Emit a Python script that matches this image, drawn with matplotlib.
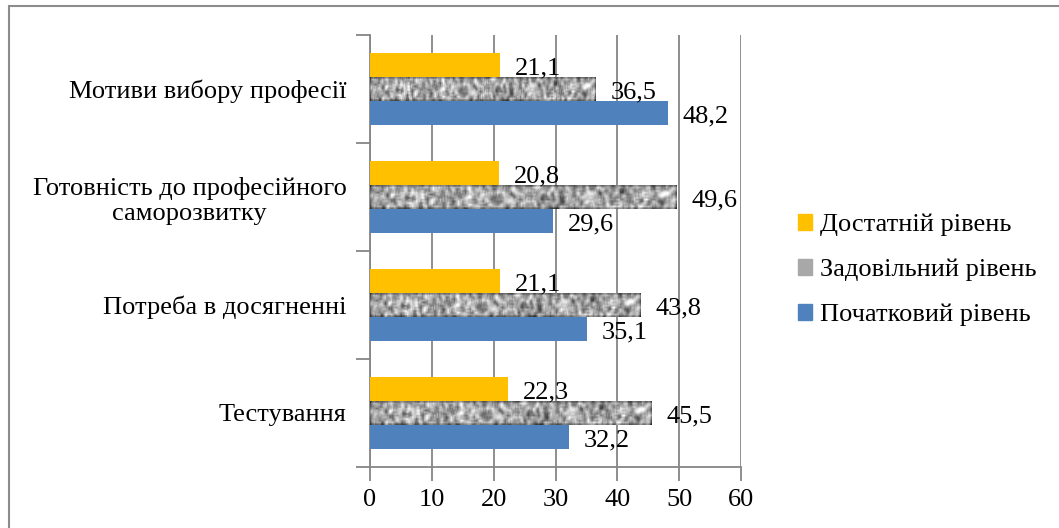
import numpy as np
import matplotlib.pyplot as plt
from matplotlib.patches import Rectangle

plt.rcParams['font.family'] = ['Liberation Serif', 'DejaVu Serif']

# ---- дані ----
categories = ['Тестування', 'Потреба в досягненні',
              'Готовність до професійного\nсаморозвитку', 'Мотиви вибору професії']
pochatkovyi = [32.2, 35.1, 29.6, 48.2]
zadovilnyi = [45.5, 43.8, 49.6, 36.5]
dostatnii = [22.3, 21.1, 20.8, 21.1]
series_names = ['Початковий рівень', 'Задовільний рівень', 'Достатній рівень']
xticks = [0, 10, 20, 30, 40, 50, 60]

FS = 19
W, H = 1059, 528
fig = plt.figure(figsize=(W / 100, H / 100), dpi=100)
ax = fig.add_axes([370 / W, 1 - 467 / H, 371 / W, 432 / H])

# рамка навколо діаграми
fig.patches.append(Rectangle((9 / W, -0.2), 1.2, 1.2 - 6 / H,
                             transform=fig.transFigure, fill=False,
                             ec='#8c8c8c', lw=1.5, zorder=0))

y = np.arange(len(categories))
h = 0.222
# текстура для сірих смуг (лише оформлення)
grey_tex = np.random.default_rng(3).random((14, 220))
k = np.ones(3) / 3
grey_tex = np.apply_along_axis(lambda r: np.convolve(r, k, mode='same'), 1, grey_tex)
grey_tex = np.apply_along_axis(lambda c: np.convolve(c, k, mode='same'), 0, grey_tex)

ax.barh(y - h, pochatkovyi, h, color='#4f81bd', zorder=3)
bars = ax.barh(y, zadovilnyi, h, color='#b0b0b0', zorder=3)
ax.barh(y + h, dostatnii, h, color='#ffc000', zorder=3)

for b in bars:
    x0, y0 = b.get_x(), b.get_y()
    im = ax.imshow(grey_tex, cmap='gray', vmin=0.0, vmax=0.75, aspect='auto',
                   extent=(x0, x0 + b.get_width(), y0, y0 + b.get_height()),
                   zorder=4, interpolation='bilinear')
    im.set_clip_path(b)

def lbl(v):
    return f'{v:.1f}'.replace('.', ',')

for vals, off in [(pochatkovyi, -h), (zadovilnyi, 0), (dostatnii, h)]:
    for yi, v in zip(y, vals):
        ax.text(v + 2.4, yi + off - 0.03, lbl(v), fontsize=FS, va='center',
                ha='left', zorder=5)

ax.set_xlim(0, 60)
ax.set_ylim(-0.5, len(categories) - 0.5)
ax.set_xticks(xticks)
ax.set_xticklabels([str(t) for t in xticks], fontsize=FS)
ax.set_yticks(np.arange(len(categories) + 1) - 0.5)
ax.set_yticklabels([])
ax.set_yticks(y, minor=True)
ax.set_yticklabels(categories, minor=True, fontsize=FS, ma='center')
ax.tick_params(axis='y', which='minor', length=0, pad=17)
ax.tick_params(axis='y', which='major', length=10, color='#868686', width=1.3)
ax.tick_params(axis='x', length=10, color='#868686', width=1.3, pad=6)
ax.grid(axis='x', color='#868686', lw=1.3, zorder=0)
ax.set_axisbelow(True)
for s in ['top', 'right']:
    ax.spines[s].set_visible(False)
for s in ['left', 'bottom']:
    ax.spines[s].set_color('#868686')
    ax.spines[s].set_linewidth(1.3)

handles = [Rectangle((0, 0), 1, 1, color='#ffc000'),
           Rectangle((0, 0), 1, 1, color='#a8a8a8'),
           Rectangle((0, 0), 1, 1, color='#4f81bd')]
fig.legend(handles, series_names[::-1], loc='center left',
           bbox_to_anchor=(774 / W, 1 - 270 / H), frameon=False, fontsize=FS,
           handlelength=0.55, handleheight=0.55, handletextpad=0.3,
           labelspacing=0.85)

fig.savefig('out.png', dpi=100)
